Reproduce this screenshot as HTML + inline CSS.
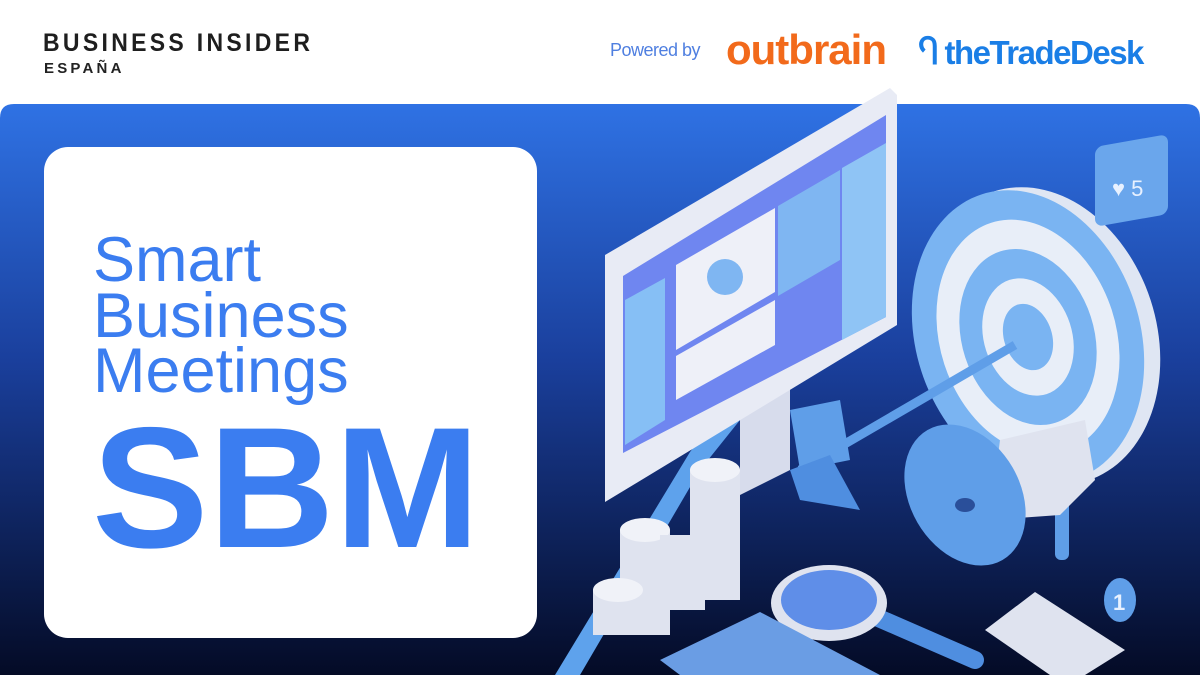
<!DOCTYPE html>
<html><head><meta charset="utf-8"><style>
body{margin:0;width:1200px;height:675px;overflow:hidden;background:#fff;font-family:"Liberation Sans",sans-serif;position:relative}
.abs{position:absolute;white-space:nowrap}
</style></head><body>
<div class="abs" style="left:43px;top:29px;font-size:25px;letter-spacing:3.6px;color:#1e1e1e;font-weight:bold;transform:scaleX(0.92);transform-origin:left">BUSINESS INSIDER</div>
<div class="abs" style="left:44px;top:60px;font-size:15px;letter-spacing:3.2px;color:#222;font-weight:bold">ESPAÑA</div>
<div class="abs" style="left:610px;top:40px;font-size:18px;color:#4f7fe0;letter-spacing:-0.5px">Powered by</div>
<div class="abs" style="left:726px;top:26px;font-size:42px;color:#f26a1b;font-weight:bold;letter-spacing:-1px">outbrain</div>
<div class="abs" style="left:918px;top:33px;font-size:33px;color:#1a7ee6;font-weight:bold;letter-spacing:-1.5px">Ⴄ theTradeDesk</div>
<svg class="abs" style="left:0;top:0" width="1200" height="675">
<defs>
<linearGradient id="bg" x1="0" y1="0" x2="0" y2="1">
<stop offset="0" stop-color="#2f72e4"/><stop offset="0.45" stop-color="#1a3f9c"/><stop offset="1" stop-color="#040b26"/>
</linearGradient>
</defs>
<path d="M0,118 Q0,104 14,104 L1186,104 Q1200,104 1200,118 L1200,675 L0,675 Z" fill="url(#bg)"/>
<rect x="44" y="147" width="493" height="491" rx="24" fill="#fff"/>
<text x="93" y="281" font-size="63" fill="#3b7df0" font-family="Liberation Sans">Smart</text>
<text x="93" y="337" font-size="63" fill="#3b7df0" font-family="Liberation Sans">Business</text>
<text x="93" y="392" font-size="63" fill="#3b7df0" font-family="Liberation Sans">Meetings</text>
<text x="92" y="547" font-size="172" font-weight="bold" fill="#3b7df0" font-family="Liberation Sans" textLength="388" lengthAdjust="spacingAndGlyphs">SBM</text>
<polygon points="555,675 580,675 700,470 740,420 758,430 752,375 712,395 728,402 690,452" fill="#5ea2ec"/>
<polygon points="740,400 790,375 790,470 740,495" fill="#d7dcec"/>
<polygon points="605,255 890,88 897,95 897,325 605,502" fill="#e8ebf5"/>
<polygon points="623,276 886,115 886,317 623,453" fill="#6f86f0"/>
<polygon points="676,265 775,208 775,292 676,350" fill="#eef0f8"/>
<polygon points="676,356 775,300 775,345 676,400" fill="#eef0f8"/>
<polygon points="778,206 840,170 840,260 778,296" fill="#7fb6f2"/>
<polygon points="842,168 886,143 886,317 842,340" fill="#8fc4f5"/>
<polygon points="625,300 665,278 665,420 625,445" fill="#86bff5"/>
<circle cx="725" cy="277" r="18" fill="#7fb6f2"/>
<g fill="#dfe3ef">
<rect x="690" y="470" width="50" height="130"/><ellipse cx="715" cy="470" rx="25" ry="12" fill="#f0f2f8"/>
<rect x="620" y="530" width="50" height="105"/><ellipse cx="645" cy="530" rx="25" ry="12" fill="#f0f2f8"/>
<rect x="660" y="535" width="45" height="75"/>
<rect x="593" y="590" width="50" height="45"/><ellipse cx="618" cy="590" rx="25" ry="12" fill="#f0f2f8"/>
</g>
<g transform="rotate(-18 1028 337)">
<ellipse cx="1040" cy="340" rx="116" ry="152" fill="#dfe6f3"/>
<ellipse cx="1028" cy="337" rx="112" ry="150" fill="#7ab4f2"/>
<ellipse cx="1028" cy="337" rx="88" ry="120" fill="#e8eef8"/>
<ellipse cx="1028" cy="337" rx="66" ry="90" fill="#7ab4f2"/>
<ellipse cx="1028" cy="337" rx="44" ry="60" fill="#e8eef8"/>
<ellipse cx="1028" cy="337" rx="24" ry="34" fill="#7ab4f2"/>
</g>
<line x1="1015" y1="345" x2="800" y2="470" stroke="#5f9ee8" stroke-width="9"/>
<polygon points="790,410 840,400 850,460 800,470" fill="#5f9ee8"/>
<polygon points="790,470 830,455 860,510 800,500" fill="#4f8ee0"/>
<rect x="1095" y="145" width="73" height="80" rx="8" fill="#6aa6ec" transform="skewY(-10) translate(0,195)"/>
<text x="1112" y="196" font-size="22" fill="#e8f1ff" font-family="Liberation Sans">♥ 5</text>
<rect x="1055" y="480" width="14" height="80" rx="6" fill="#5f9ee8"/>
<polygon points="1000,440 1085,420 1095,480 1060,515 990,520" fill="#dfe3ef"/>
<ellipse cx="965" cy="495" rx="55" ry="75" fill="#5f9ee8" transform="rotate(-30 965 495)"/>
<ellipse cx="965" cy="505" rx="10" ry="7" fill="#2a4f9a"/>
<line x1="860" y1="610" x2="975" y2="660" stroke="#4f8ee0" stroke-width="18" stroke-linecap="round"/>
<ellipse cx="829" cy="603" rx="58" ry="38" fill="#dfe3ef"/>
<ellipse cx="829" cy="600" rx="48" ry="30" fill="#5f8ee8"/>
<polygon points="660,660 760,612 880,675 680,675" fill="#6a9de4"/>
<polygon points="985,630 1035,592 1125,650 1085,675 1050,675" fill="#dfe3ef"/>
<ellipse cx="1120" cy="600" rx="16" ry="22" fill="#5f9ee8"/>
<text x="1113" y="610" font-size="22" font-weight="bold" fill="#e8f1ff" font-family="Liberation Sans">1</text>
</svg>
</body></html>
